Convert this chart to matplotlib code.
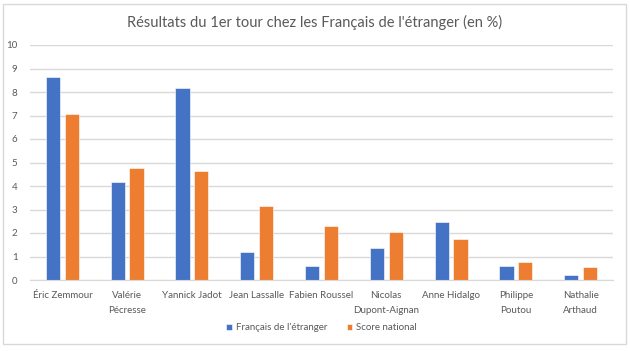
import numpy as np
import matplotlib
matplotlib.use('agg')
import matplotlib.pyplot as plt
from matplotlib.patches import Rectangle

# données
candidats = ['Éric Zemmour', 'Valérie\nPécresse', 'Yannick Jadot', 'Jean Lassalle', 'Fabien Roussel',
             'Nicolas\nDupont-Aignan', 'Anne Hidalgo', 'Philippe\nPoutou', 'Nathalie\nArthaud']
etranger = [8.64, 4.18, 8.16, 1.18, 0.61, 1.38, 2.45, 0.61, 0.21]
national = [7.07, 4.78, 4.63, 3.13, 2.28, 2.06, 1.75, 0.77, 0.56]
series = ["Français de l'étranger", 'Score national']
couleurs = ['#4472C4', '#ED7D31']
titre = "Résultats du 1er tour chez les Français de l'étranger (en %)"

plt.rcParams['font.family'] = ['Lato', 'DejaVu Sans']
gris = '#595959'

fig = plt.figure(figsize=(6.3, 3.51), dpi=100)
fig.patches.append(Rectangle((0.005, 0.02), 0.988, 0.97, transform=fig.transFigure,
                             fill=False, edgecolor='#D9D9D9', linewidth=1))
ax = fig.add_axes([30 / 630, 1 - 280 / 351, 583 / 630, 235 / 351])

x = np.arange(len(candidats))
w = 0.22
ax.bar(x - 0.145, etranger, w, color=couleurs[0], label=series[0], edgecolor='white', linewidth=0.4)
ax.bar(x + 0.145, national, w, color=couleurs[1], label=series[1], edgecolor='white', linewidth=0.4)

ax.set_xlim(-0.5, len(candidats) - 0.5)
ax.set_ylim(0, 10)
ax.set_yticks(range(0, 11))
ax.yaxis.grid(True, color='#D9D9D9', linewidth=1)
ax.set_axisbelow(True)
for s in ['top', 'right', 'left']:
    ax.spines[s].set_visible(False)
ax.spines['bottom'].set_color('#D9D9D9')
ax.tick_params(axis='both', length=0, labelsize=7, labelcolor=gris)
ax.tick_params(axis='y', pad=9)
ax.set_xticks(x)
ax.set_xticklabels(candidats, linespacing=1.9, va='top')
ax.tick_params(axis='x', pad=8)

fig.text(0.5, 1 - 22 / 351, titre, ha='center', va='center', fontsize=10.5, color=gris)
ax.legend(loc='center', bbox_to_anchor=(0.5, (280 - 328) / 235), ncol=2, frameon=False,
          fontsize=7, labelcolor=gris, handlelength=0.6, handleheight=0.6, columnspacing=2,
          handletextpad=0.4)

fig.savefig('out.png', dpi=100)
